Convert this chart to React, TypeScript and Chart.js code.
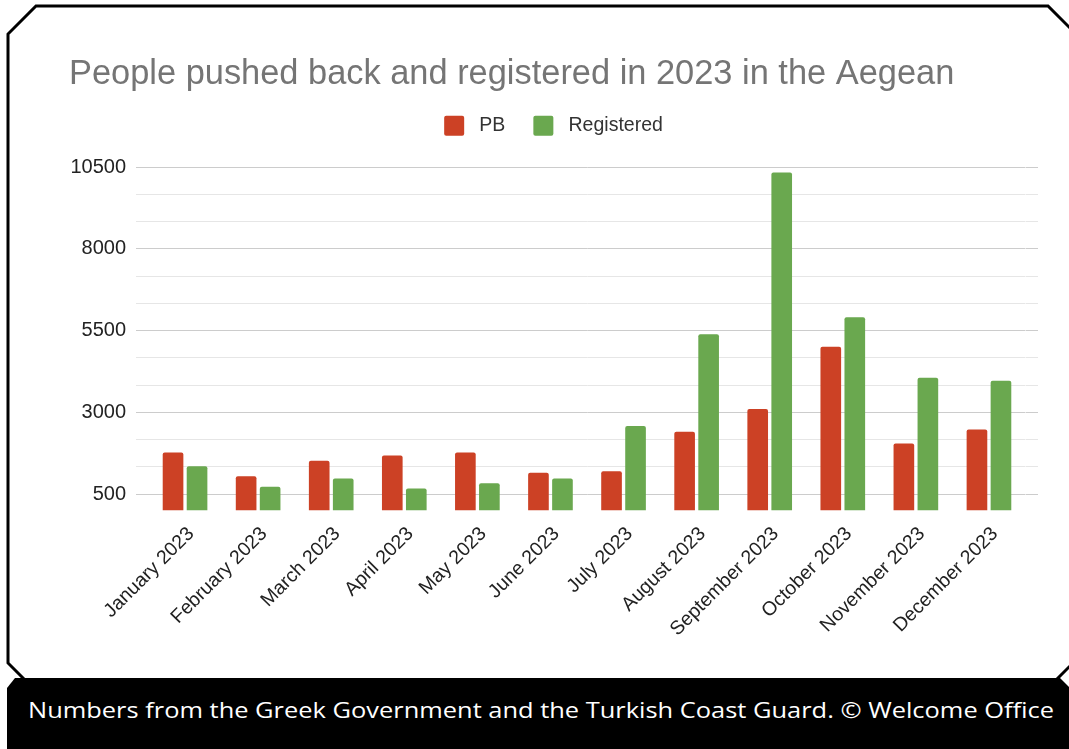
import React, { useEffect, useRef } from 'react';
import { Chart, registerables } from 'chart.js';

Chart.register(...registerables);

// ---- data ----
const months = [
  'January 2023', 'February 2023', 'March 2023', 'April 2023', 'May 2023', 'June 2023',
  'July 2023', 'August 2023', 'September 2023', 'October 2023', 'November 2023', 'December 2023',
];
const pushedBack = [1775, 1050, 1518, 1683, 1775, 1151, 1203, 2406, 3101, 5008, 2051, 2479];
const registered = [1356, 723, 980, 673, 836, 980, 2580, 5387, 10334, 5907, 4059, 3967];
const seriesNames = ['PB', 'Registered'];
const yMajorTicks = [500, 3000, 5500, 8000, 10500];
const yMinorPerMajor = 3;
const chartTitle = 'People pushed back and registered in 2023 in the Aegean';
const footerText = 'Numbers from the Greek Government and the Turkish Coast Guard. © Welcome Office';

const RED = '#cc4125';
const GREEN = '#6aa84f';
const FONT = '"Liberation Sans", Arial, sans-serif';

const tickValues: number[] = [];
for (let i = 0; i < yMajorTicks.length; i++) {
  tickValues.push(yMajorTicks[i]);
  if (i < yMajorTicks.length - 1) {
    const step = (yMajorTicks[i + 1] - yMajorTicks[i]) / yMinorPerMajor;
    for (let k = 1; k < yMinorPerMajor; k++) tickValues.push(yMajorTicks[i] + k * step);
  }
}
const isMajor = (v: number) => yMajorTicks.some((m) => Math.abs(m - v) < 1e-6);
const gridColor = (ctx: any) => (ctx.tick && isMajor(ctx.tick.value) ? '#cccccc' : '#e6e6e6');
const setTicks = (scale: any) => {
  scale.ticks = tickValues.map((v) => ({ value: v }));
};

const legendSpacer = {
  id: 'legendSpacer',
  beforeInit(chart: any) {
    const legend = chart.legend;
    if (!legend) return;
    const orig = legend.fit;
    legend.fit = function () {
      orig.call(this);
      this.height += 21.4;
    };
  },
};

export default function App() {
  const ref = useRef<HTMLCanvasElement | null>(null);

  useEffect(() => {
    if (!ref.current) return;
    const chart = new Chart(ref.current, {
      type: 'bar',
      data: {
        labels: months,
        datasets: [
          { label: seriesNames[0], data: pushedBack, backgroundColor: RED, borderWidth: 0, borderRadius: 2 },
          { label: seriesNames[1], data: registered, backgroundColor: GREEN, borderWidth: 0, borderRadius: 2 },
        ],
      },
      options: {
        responsive: false,
        animation: false,
        devicePixelRatio: 1,
        datasets: { bar: { categoryPercentage: 0.657, barPercentage: 0.86 } },
        layout: { padding: { left: 69, right: 31, top: 0, bottom: 11 } },
        plugins: {
          tooltip: { enabled: false },
          title: {
            display: true,
            text: chartTitle,
            align: 'start',
            color: '#757575',
            font: { family: FONT, size: 34.4, weight: 'normal', lineHeight: 0.76 },
            padding: { top: 61.5, bottom: 0 },
          },
          legend: {
            display: true,
            position: 'top',
            labels: {
              color: '#333333',
              font: { family: FONT, size: 19.5 },
              boxWidth: 20,
              boxHeight: 20,
              padding: 28,
              useBorderRadius: true,
              borderRadius: 2,
              generateLabels: (c: any) =>
                (Chart.defaults.plugins.legend.labels as any)
                  .generateLabels(c)
                  .map((l: any) => ({ ...l, text: ' ' + l.text, lineWidth: 0 })),
            },
          },
        },
        scales: {
          x: {
            grid: { display: false, drawTicks: false },
            border: { display: false },
            ticks: {
              color: '#222222',
              font: { family: FONT, size: 19.5 },
              minRotation: 45,
              maxRotation: 45,
              autoSkip: false,
              padding: 12,
              labelOffset: 6,
            },
          },
          y: {
            min: 0,
            max: 10500,
            afterBuildTicks: setTicks,
            afterFit: (scale: any) => {
              scale.width = 79.5;
            },
            border: { display: false },
            grid: { color: gridColor, lineWidth: 1, drawTicks: true, tickLength: 12.5 },
            ticks: {
              color: '#222222',
              font: { family: FONT, size: 20 },
              padding: 10,
              callback: (v: any) => (isMajor(Number(v)) ? String(v) : ''),
            },
          },
          y2: {
            position: 'right',
            min: 0,
            max: 10500,
            afterBuildTicks: setTicks,
            border: { display: false },
            grid: { color: gridColor, lineWidth: 1, drawOnChartArea: false, drawTicks: true, tickLength: 12.5 },
            ticks: { display: false },
          },
        },
      } as any,
      plugins: [legendSpacer],
    });
    return () => chart.destroy();
  }, []);

  return (
    <div style={{ position: 'fixed', left: 0, top: 0, width: 1069, height: 749, background: '#ffffff', overflow: 'hidden' }}>
      <svg width={1069} height={749} style={{ position: 'absolute', left: 0, top: 0 }}>
        <polygon
          points="36,6 1048,6 1075,33 1075,661 1056,680 25,680 8,663 8,34"
          fill="#ffffff"
          stroke="#000000"
          strokeWidth={3}
          strokeLinejoin="miter"
        />
        <polygon points="15,678 1060,678 1069,687 1069,749 7,749 7,688" fill="#000000" />
        <text
          x={28}
          y={718}
          fill="#ffffff"
          fontSize={22}
          fontFamily='"Open Sans", "Noto Sans", sans-serif'
          textLength={1026}
          lengthAdjust="spacingAndGlyphs"
        >
          {footerText}
        </text>
      </svg>
      <canvas ref={ref} width={1069} height={664} style={{ position: 'absolute', left: 0, top: 0, width: 1069, height: 664 }} />
    </div>
  );
}
